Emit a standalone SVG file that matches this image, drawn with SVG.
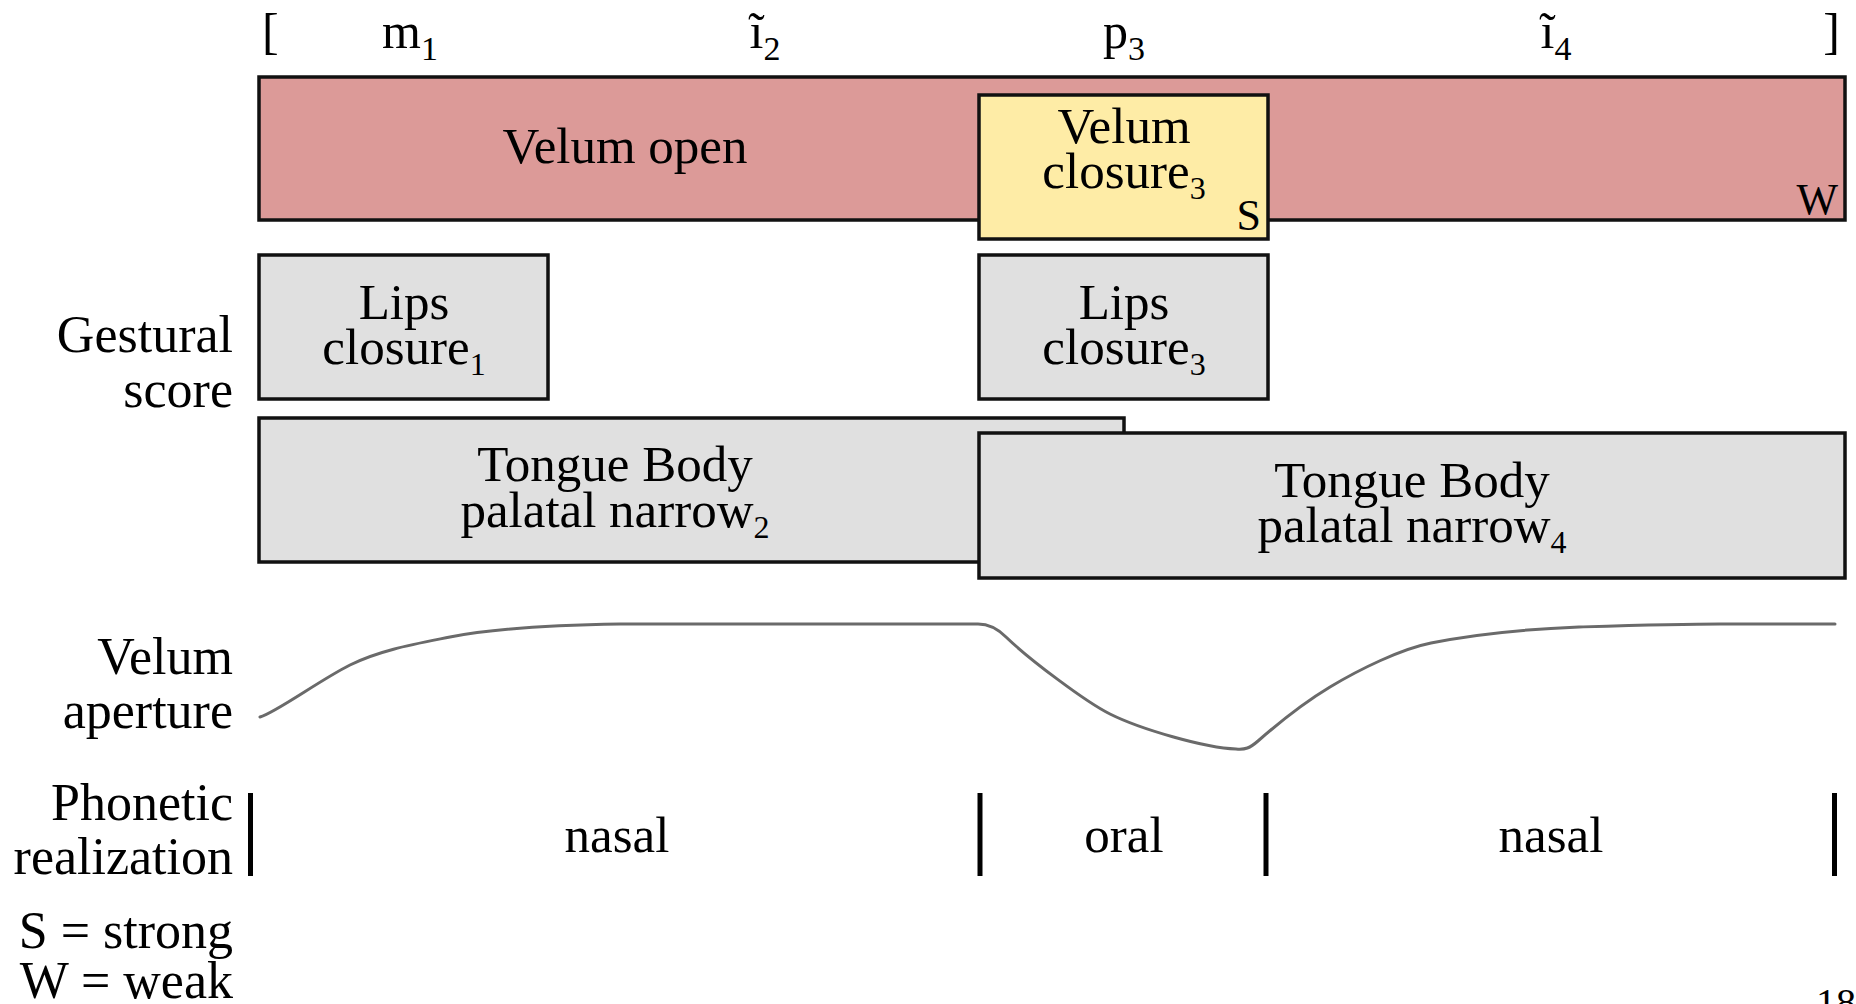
<svg xmlns="http://www.w3.org/2000/svg" width="1856" height="1004" viewBox="0 0 1856 1004">
  <style>
    text { font-family: "Liberation Serif", "Times New Roman", serif; fill: #000; }
    .lbl { font-size: 52px; text-anchor: end; }
    .box { font-size: 51px; text-anchor: middle; }
    .seg { font-size: 50px; }
    .mid { text-anchor: middle; }
    .sub { font-size: 32px; }
    .tsub { font-size: 34px; }
    .wt { font-size: 44px; text-anchor: end; }
    .gesture { stroke: #111; stroke-width: 3.5; }
    .open { fill: #dc9a98; }
    .close { fill: #feeca6; }
    .grey { fill: #e0e0e0; }
    .bar { stroke: #000; stroke-width: 5; }
    .trace { fill: none; stroke: #6a6a6a; stroke-width: 3; stroke-linejoin: round; stroke-linecap: round; }
  </style>

  <!-- segment transcription row -->
  <g id="transcription">
    <text class="seg" x="262" y="48">[</text>
    <text class="seg mid" x="410" y="48">m<tspan class="tsub" dy="12">1</tspan></text>
    <text class="seg mid" x="765" y="48">ĩ<tspan class="tsub" dy="12">2</tspan></text>
    <text class="seg mid" x="1124" y="48">p<tspan class="tsub" dy="12">3</tspan></text>
    <text class="seg mid" x="1556" y="48">ĩ<tspan class="tsub" dy="12">4</tspan></text>
    <text class="seg" x="1840" y="48" text-anchor="end">]</text>
  </g>

  <!-- row labels -->
  <g id="row-labels">
    <text class="lbl" x="233" y="352">Gestural</text>
    <text class="lbl" x="233" y="407">score</text>
    <text class="lbl" x="233" y="674">Velum</text>
    <text class="lbl" x="233" y="728">aperture</text>
    <text class="lbl" x="233" y="820">Phonetic</text>
    <text class="lbl" x="233" y="874">realization</text>
    <text class="lbl" x="233" y="948">S = strong</text>
    <text class="lbl" x="233" y="998">W = weak</text>
  </g>

  <!-- gestural score -->
  <g id="velum-open">
    <rect class="gesture open" x="259" y="77" width="1586" height="143"/>
    <text class="box" x="625" y="163">Velum open</text>
    <text class="wt" x="1838" y="214">W</text>
  </g>

  <g id="velum-closure-3">
    <rect class="gesture close" x="979" y="95" width="289" height="144"/>
    <text class="box" x="1124" y="143">Velum</text>
    <text class="box" x="1124" y="188">closure<tspan class="sub" dy="11">3</tspan></text>
    <text class="wt" x="1261" y="230">S</text>
  </g>

  <g id="lips-closure-1">
    <rect class="gesture grey" x="259" y="255" width="289" height="144"/>
    <text class="box" x="404" y="319">Lips</text>
    <text class="box" x="404" y="364">closure<tspan class="sub" dy="11">1</tspan></text>
  </g>

  <g id="lips-closure-3">
    <rect class="gesture grey" x="979" y="255" width="289" height="144"/>
    <text class="box" x="1124" y="319">Lips</text>
    <text class="box" x="1124" y="364">closure<tspan class="sub" dy="11">3</tspan></text>
  </g>

  <g id="tongue-body-2">
    <rect class="gesture grey" x="259" y="418" width="865" height="144"/>
    <text class="box" x="615" y="481">Tongue Body</text>
    <text class="box" x="615" y="527">palatal narrow<tspan class="sub" dy="11">2</tspan></text>
  </g>

  <g id="tongue-body-4">
    <rect class="gesture grey" x="979" y="433" width="866" height="145"/>
    <text class="box" x="1412" y="497">Tongue Body</text>
    <text class="box" x="1412" y="542">palatal narrow<tspan class="sub" dy="11">4</tspan></text>
  </g>

  <!-- velum aperture trajectory -->
  <g id="velum-aperture">
    <path class="trace" d="M260,717 C275,713 320,680 350,665 C380,650 415,644 450,637 C490,629 560,625 620,624 L978,624 C990,624 998,629 1006,637 C1030,660 1086,702 1110,714 C1140,729 1205,748 1236,749 C1245,750 1250,748 1258,741 C1274,727 1305,702 1330,687 C1360,669 1401,649 1431,643 C1471,635 1529,629 1579,627 C1620,625.8 1680,624 1720,624 L1835,624"/>
  </g>

  <!-- phonetic realization boundaries -->
  <g id="boundaries">
    <line class="bar" x1="250.5" y1="793" x2="250.5" y2="876"/>
    <line class="bar" x1="980" y1="793" x2="980" y2="876"/>
    <line class="bar" x1="1266" y1="793" x2="1266" y2="876"/>
    <line class="bar" x1="1834.5" y1="793" x2="1834.5" y2="876"/>
  </g>

  <g id="realization">
    <text class="box" x="617" y="852">nasal</text>
    <text class="box" x="1124" y="852">oral</text>
    <text class="box" x="1551" y="852">nasal</text>
  </g>

  <text x="1816" y="1016" style="font-size:40px">18</text>
</svg>
